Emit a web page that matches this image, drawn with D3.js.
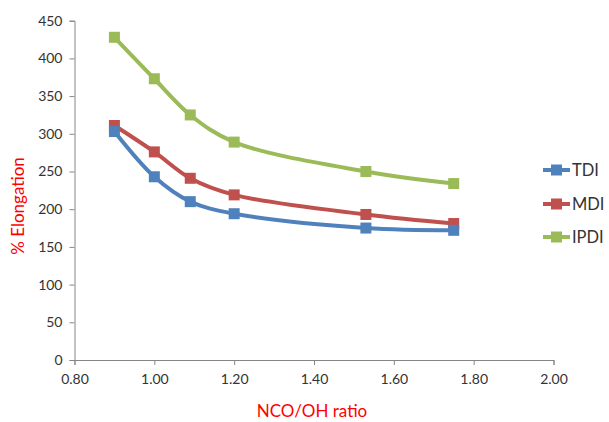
<!DOCTYPE html>
<html>
<head>
<meta charset="utf-8">
<script src="https://cdn.jsdelivr.net/npm/d3@7"></script>
<style>
  html, body { margin: 0; padding: 0; background: #fff; }
  svg { display: block; }
</style>
</head>
<body>
<svg id="chart" width="609" height="422"></svg>
<script>
// NCO/OH ratio vs. % elongation for three diisocyanates
const ratios = [0.90, 1.00, 1.09, 1.20, 1.53, 1.75];
const seriesNames = ["TDI", "MDI", "IPDI"];
const tdiValues  = [303, 243, 210, 194, 175, 172];
const mdiValues  = [311, 276, 241, 219, 193, 181];
const ipdiValues = [428, 373, 325, 289, 250, 234];
const seriesColors = ["#4F81BD", "#C0504D", "#9BBB59"];
const xTicks = [0.8, 1.0, 1.2, 1.4, 1.6, 1.8, 2.0];
const yTicks = [0, 50, 100, 150, 200, 250, 300, 350, 400, 450];

const series = [tdiValues, mdiValues, ipdiValues].map((vals, i) => ({
  name: seriesNames[i],
  color: seriesColors[i],
  points: vals.map((v, j) => ({ x: ratios[j], y: v }))
}));

const svg = d3.select("#chart");
const font = "Lato, 'Open Sans', sans-serif";

const x = d3.scaleLinear().domain([0.8, 2.0]).range([74.5, 553.5]);
const y = d3.scaleLinear().domain([0, 450]).range([360, 20.7]);

const axisColor = "#868686";
const labelColor = "#333";

// Y axis
const yAxis = svg.append("g")
  .attr("transform", `translate(${x(0.8)},0)`)
  .call(d3.axisLeft(y).tickValues(yTicks).tickSize(5).tickPadding(7).tickFormat(d3.format("d")));
yAxis.select(".domain").attr("stroke", axisColor).attr("stroke-width", 1);
yAxis.selectAll(".tick line").attr("stroke", axisColor);
yAxis.selectAll(".tick text").attr("fill", labelColor)
  .style("font-family", font).style("font-size", "14px");

// X axis
const xAxis = svg.append("g")
  .attr("transform", `translate(0,${y(0)})`)
  .call(d3.axisBottom(x).tickValues(xTicks).tickSize(5).tickPadding(9).tickFormat(d3.format(".2f")));
xAxis.select(".domain").attr("stroke", axisColor).attr("stroke-width", 1);
xAxis.selectAll(".tick line").attr("stroke", axisColor);
xAxis.selectAll(".tick text").attr("fill", labelColor)
  .style("font-family", font).style("font-size", "14px");

// Axis titles
svg.append("text")
  .attr("x", 312).attr("y", 417)
  .attr("text-anchor", "middle")
  .attr("fill", "#FF0000")
  .style("font-family", font).style("font-size", "17px")
  .text("NCO/OH ratio");

svg.append("text")
  .attr("transform", "translate(24,206) rotate(-90)")
  .attr("text-anchor", "middle")
  .attr("fill", "#FF0000")
  .style("font-family", font).style("font-size", "17px")
  .text("% Elongation");

// Smoothed lines with square markers
const line = d3.line()
  .x(d => x(d.x))
  .y(d => y(d.y))
  .curve(d3.curveCatmullRom.alpha(0.5));

const groups = svg.append("g").selectAll("g.series")
  .data(series.slice().reverse())
  .join("g").attr("class", "series");

groups.append("path")
  .attr("d", d => line(d.points))
  .attr("fill", "none")
  .attr("stroke", d => d.color)
  .attr("stroke-width", 4)
  .attr("stroke-linejoin", "round");

const ms = 11;
groups.each(function (s) {
  d3.select(this).selectAll("rect")
    .data(s.points)
    .join("rect")
    .attr("x", d => x(d.x) - ms / 2)
    .attr("y", d => y(d.y) - ms / 2)
    .attr("width", ms).attr("height", ms)
    .attr("fill", s.color);
});

// Legend (runs past the right edge of the canvas)
const legend = svg.append("g").attr("transform", "translate(543,0)");
const legendY = [170, 204, 237];
series.forEach((s, i) => {
  const g = legend.append("g").attr("transform", `translate(0,${legendY[i]})`);
  g.append("line").attr("x1", 0).attr("x2", 27).attr("y1", 0).attr("y2", 0)
    .attr("stroke", s.color).attr("stroke-width", 4);
  g.append("rect").attr("x", 13.5 - ms / 2).attr("y", -ms / 2)
    .attr("width", ms).attr("height", ms).attr("fill", s.color);
  g.append("text").attr("x", 29).attr("y", 6)
    .attr("fill", labelColor)
    .style("font-family", font).style("font-size", "16.5px")
    .text(s.name);
});
</script>
</body>
</html>
